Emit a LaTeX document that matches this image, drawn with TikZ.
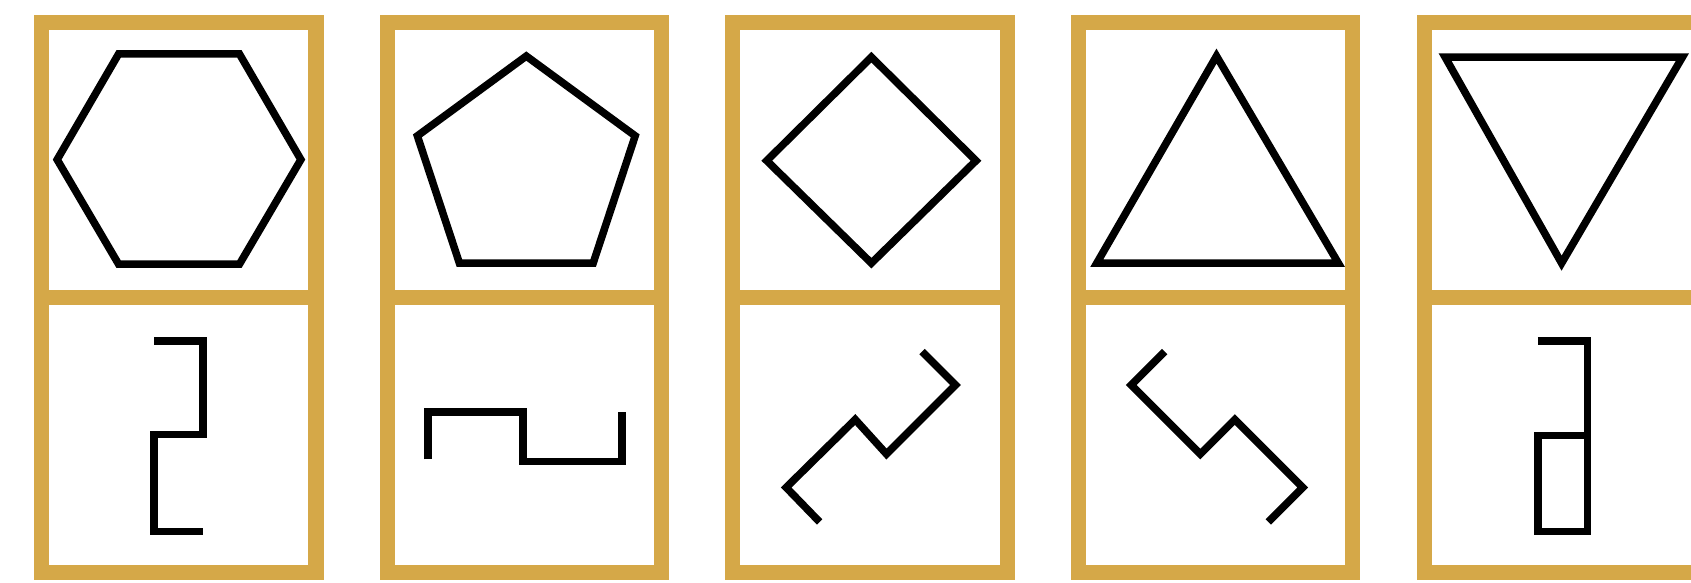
\documentclass[tikz,border=0pt]{standalone}
\definecolor{gold}{RGB}{213,168,72}
\tikzset{
  frame/.style={draw=gold, line width=14pt},
  figline/.style={draw=black, line width=7pt, line join=miter},
}
\begin{document}
\begin{tikzpicture}[x=1pt,y=-1pt]
\useasboundingbox (0,0) rectangle (1568,540);
\fill[white] (0,0) rectangle (1568,540);
\clip (0,0) rectangle (1568,540);
% frames
\foreach \x in {38.5,359,679.5,1000,1320.5}{
  \draw[frame] (\x,21) rectangle ++(254.5,510);
  \draw[frame] (\x,275.5) -- ++(254.5,0);
}
% box 1
\draw[figline] (110,50) -- (222,50) -- (279,148) -- (222,245) -- (110,245) -- (53,148) -- cycle;
\draw[figline] (143,316) -- (188,316) -- (188,403) -- (143,403) -- (143,493) -- (188,493);
% box 2
\draw[figline] (488,52) -- (589,126) -- (550,244) -- (426,244) -- (387,126) -- cycle;
\draw[figline] (397,426) -- (397,382) -- (485,382) -- (485,428) -- (577,428) -- (577,382);
% box 3
\draw[figline] (808,53) -- (905,149) -- (808,244) -- (711,149) -- cycle;
\draw[figline] (760,484) -- (729,452) -- (793,389) -- (822,421) -- (886,357) -- (855,326);
% box 4
\draw[figline] (1128,52) -- (1241,244) -- (1017,244) -- cycle;
\draw[figline] (1080,326) -- (1049,357) -- (1113,421) -- (1145,389) -- (1208,452) -- (1176,484);
% box 5
\draw[figline] (1340,53) -- (1560,53) -- (1448,244) -- cycle;
\draw[figline] (1426,316) -- (1472,316) -- (1472,493) -- (1426,493) -- (1426,404) -- (1472,404);
\end{tikzpicture}
\end{document}
